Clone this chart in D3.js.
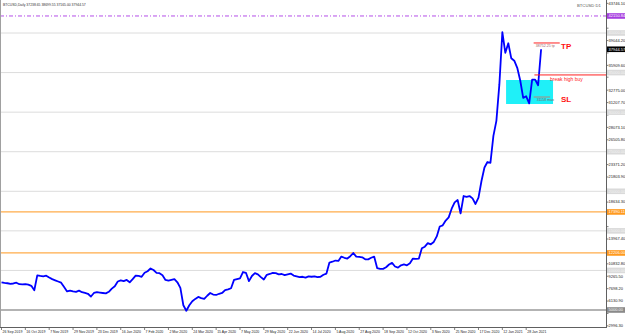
<!DOCTYPE html>
<html><head><meta charset="utf-8">
<script src="https://cdn.jsdelivr.net/npm/d3@7"></script>
<style>html,body{margin:0;padding:0;background:#fff;} svg{display:block;font-family:"Liberation Sans",Arial,sans-serif;}</style>
</head><body><svg id="c" width="625" height="336"></svg>
<script>
// ---------- data ----------
const symbolTitle = "BTCUSD,Daily";
const ohlc = ["37238.65", "38699.55", "37165.00", "37944.57"];
const chartTag = "BTCUSD D1";
const barStep = 2; // one close every 2 daily bars
const closes = [
  8500,8420,8380,8300,8350,8450,8260,8250,8280,8200,
  8050,7500,9380,9300,9250,9330,9100,8900,8750,8600,
  8450,7900,7350,7450,7350,7300,7450,7250,7150,7050,
  6700,7150,7250,7200,7150,7100,7300,7700,8000,8600,
  8750,8650,8800,8500,8900,9350,9300,9200,9700,9900,
  10250,10050,9700,9650,9400,8800,8700,8800,8900,8500,
  7800,5600,4900,5600,6100,6400,6650,6500,6400,6800,
  7150,6950,6900,7050,7150,7500,7600,7750,8800,8900,
  9000,9800,9700,8650,9300,9650,9500,9150,8850,9450,
  9550,9700,9650,9500,9550,9400,9500,9600,9350,9250,
  9150,9200,9100,9250,9200,9250,9150,9200,9450,9600,
  11000,11100,11250,11200,11750,11600,11500,11800,12200,11750,
  11700,11650,11400,11400,11600,11750,10300,10200,10200,10400,
  10750,10950,10500,10350,10650,10750,10650,10900,11500,11450,
  11500,12800,13000,13450,13300,13600,14300,15550,15700,16300,
  16700,17800,18600,18900,17200,19400,19300,19400,19100,18400,
  19200,21300,23000,23700,23600,27000,28900,33500,40100,37500,
  38700,36800,36500,35600,34000,31800,32000,31100,34100,34100,
  33400,37944.57
];
const dateLabels = ["26 Sep 2019","16 Oct 2019","7 Nov 2019","29 Nov 2019","23 Dec 2019","16 Jan 2020","7 Feb 2020","2 Mar 2020","24 Mar 2020","15 Apr 2020","7 May 2020","29 May 2020","22 Jun 2020","14 Jul 2020","5 Aug 2020","27 Aug 2020","18 Sep 2020","12 Oct 2020","3 Nov 2020","25 Nov 2020","17 Dec 2020","12 Jan 2021","28 Jan 2021"];
const barsPerDateLabel = 16;
const priceLabels = ["2996.30","4563.60","6130.90","7698.20","9265.50","10832.80","12400.10","13967.40","15534.70","17102.00","18634.30","20236.60","21803.90","23371.20","24938.50","26505.80","28073.10","29640.40","31207.70","32775.00","34417.00","35909.60","37476.90","39044.20","40611.50","42178.80","43746.10"];
const gridLevels = [10000, 15000, 20000, 25000, 30000, 35000, 40000];
const orangeLevels = [17390.11, 12206.00];
const purpleLevel = 42150.84;
const supportLevel = 5000;
const lastPrice = 37944.57;
const breakLevel = 34700;
const breakText = "break high buy";
const tpLevel = 38740, tpText = "38752.25 tp", tpTag = "TP";
const slLevel = 31910, slText = "31158 max", slTag = "SL";
const zone = {top: 34060, bottom: 31030, from: 338.5, to: 370};
const tpFrom = 357, tpTo = 374.5, slFrom = 357, slTo = 368, breakFrom = 357.5;

// ---------- drawing ----------
const svg = d3.select("#c");
const plotR = 606, plotB = 327;
const lastIdx = (closes.length - 1) * barStep;
const x = d3.scaleLinear().domain([0, lastIdx]).range([1.5, 541.1]);
const y = d3.scaleLinear().domain([5000, 40000]).range([310, 33]);

svg.append("rect").attr("x",0).attr("y",0).attr("width",625).attr("height",336).attr("fill","#fff");

// grid levels
svg.selectAll("line.grid").data(gridLevels).enter().append("line")
  .attr("x1",0).attr("x2",plotR).attr("y1",d=>y(d)).attr("y2",d=>y(d))
  .attr("stroke","#dcdcdc").attr("stroke-width",1);

// orange levels
svg.selectAll("line.or").data(orangeLevels).enter().append("line")
  .attr("x1",0).attr("x2",plotR).attr("y1",d=>y(d)).attr("y2",d=>y(d))
  .attr("stroke","#ffac4a").attr("stroke-width",1.2);

// support level
svg.append("line").attr("x1",0).attr("x2",plotR).attr("y1",y(supportLevel)).attr("y2",y(supportLevel))
  .attr("stroke","#9a9a9a").attr("stroke-width",1.3);

// purple dashed level
svg.append("line").attr("x1",0).attr("x2",plotR).attr("y1",y(purpleLevel)).attr("y2",y(purpleLevel))
  .attr("stroke","#b44ee8").attr("stroke-width",1).attr("stroke-dasharray","4,2,1,2");

// cyan zone
svg.append("rect").attr("x",x(zone.from)).attr("y",y(zone.top))
  .attr("width",x(zone.to)-x(zone.from)).attr("height",y(zone.bottom)-y(zone.top))
  .attr("fill","#1ff0f8");

// price line
const line = d3.line().x((d,i)=>x(i*barStep)).y(d=>y(d));
svg.append("path").datum(closes).attr("d",line).attr("fill","none")
  .attr("stroke","#0000ff").attr("stroke-width",1.8).attr("stroke-linejoin","round");

// break line
svg.append("line").attr("x1",x(breakFrom)).attr("x2",plotR).attr("y1",y(breakLevel)).attr("y2",y(breakLevel))
  .attr("stroke","#ff2020").attr("stroke-width",1);
svg.append("text").attr("x",550).attr("y",y(breakLevel)+6.5).text(breakText)
  .attr("font-size",5).attr("fill","#ff2020");

// TP
svg.append("line").attr("x1",x(tpFrom)).attr("x2",x(tpTo)).attr("y1",y(tpLevel)).attr("y2",y(tpLevel))
  .attr("stroke","#ff2020").attr("stroke-width",1);
svg.append("text").attr("x",x(tpFrom)+2).attr("y",y(tpLevel)+3.8).text(tpText)
  .attr("font-size",3.6).attr("fill","#a06060");
svg.append("text").attr("x",561).attr("y",y(tpLevel)+6).text(tpTag)
  .attr("font-size",8).attr("font-weight","bold").attr("fill","#ff1010");

// SL
svg.append("line").attr("x1",x(slFrom)).attr("x2",x(slTo)).attr("y1",y(slLevel)).attr("y2",y(slLevel))
  .attr("stroke","#b08878").attr("stroke-width",1);
svg.append("text").attr("x",x(slFrom)+3).attr("y",y(slLevel)+4).text(slText)
  .attr("font-size",3.6).attr("fill","#806060");
svg.append("text").attr("x",561).attr("y",y(slLevel)+5).text(slTag)
  .attr("font-size",8).attr("font-weight","bold").attr("fill","#ff1010");

// frame / axes
svg.append("line").attr("x1",0.5).attr("x2",0.5).attr("y1",0).attr("y2",plotB).attr("stroke","#a0a0a0");
svg.append("line").attr("x1",0).attr("x2",plotR).attr("y1",plotB+0.5).attr("y2",plotB+0.5).attr("stroke","#606060");
svg.append("line").attr("x1",plotR+0.5).attr("x2",plotR+0.5).attr("y1",0).attr("y2",plotB+1).attr("stroke","#606060");

// levels that get a box on the price axis (they hide the scale labels beneath them)
const boxLevels = gridLevels.concat([supportLevel, purpleLevel, lastPrice], orangeLevels);

// right price labels
const pl = svg.append("g");
priceLabels.forEach(t=>{
  const v = parseFloat(t), yy = y(v);
  pl.append("line").attr("x1",plotR).attr("x2",plotR+2.5).attr("y1",yy).attr("y2",yy).attr("stroke","#606060").attr("stroke-width",0.8);
  const hidden = boxLevels.some(b=>Math.abs(y(b)-yy) < 5.8);
  if(!hidden) pl.append("text").attr("x",608.5).attr("y",yy+1.4).text(t).attr("font-size",4).attr("fill","#222");
});

// date labels
dateLabels.forEach((t,i)=>{
  const xx = x(i*barsPerDateLabel);
  svg.append("line").attr("x1",xx).attr("x2",xx).attr("y1",plotB).attr("y2",plotB+3).attr("stroke","#606060").attr("stroke-width",0.8);
  svg.append("text").attr("x",xx+1).attr("y",333.3).text(t).attr("font-size",3.5).attr("fill","#222");
});

// level boxes on axis
function box(v, fill, tfill, label){
  const yy = y(v);
  svg.append("rect").attr("x",plotR+1).attr("y",yy-2.8).attr("width",19).attr("height",5.6).attr("fill",fill);
  svg.append("text").attr("x",608.5).attr("y",yy+1.4).text(label).attr("font-size",4).attr("fill",tfill);
}
gridLevels.forEach(v=>box(v,"#dadada","#f4f4f4",v.toFixed(2)));
box(supportLevel,"#8a8a8a","#ffffff",supportLevel.toFixed(2));
orangeLevels.forEach(v=>box(v,"#ff9a1e","#ffffff",v.toFixed(2)));
box(purpleLevel,"#a63ee0","#ffffff",purpleLevel.toFixed(2));
box(lastPrice,"#000000","#ffffff",lastPrice.toFixed(2));

// header texts
svg.append("text").attr("x",3).attr("y",6.3).text(symbolTitle+"  "+ohlc.join(" "))
  .attr("font-size",3.4).attr("fill","#333");
svg.append("text").attr("x",577).attr("y",7.3).text(chartTag)
  .attr("font-size",4.2).attr("fill","#555");
</script></body></html>
